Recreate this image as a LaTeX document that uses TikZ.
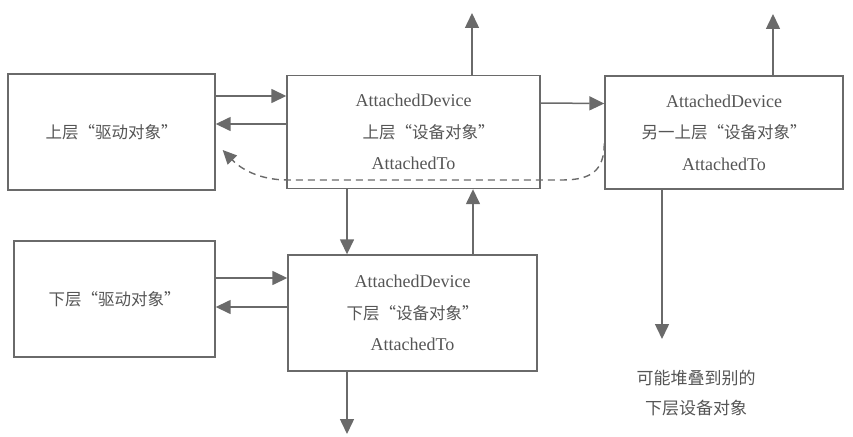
\documentclass[tikz,border=0pt]{standalone}
\usepackage{fontspec}
\setmainfont{Liberation Serif}
\newfontfamily\cjk{Noto Sans CJK SC}
\usetikzlibrary{arrows.meta,calc}
\definecolor{ln}{HTML}{6A6A6A}
\definecolor{tx}{HTML}{555555}
\newcommand{\zh}[1]{{\cjk\fontsize{16.5}{31.5}\selectfont #1}}
\begin{document}
\begin{tikzpicture}[x=1pt,y=-1pt,
  box/.style={draw=ln,line width=1.4pt,align=center,text=tx,inner sep=0pt,
    font=\fontsize{18}{31.5}\selectfont},
  arr/.style={draw=ln,line width=1.5pt,-{Triangle[length=15pt,width=14pt]},ln},
  dsh/.style={draw=ln,line width=1.4pt,dash pattern=on 7pt off 5pt,
    -{Triangle[length=14pt,width=13pt]},ln},
  note/.style={text=tx,inner sep=0pt,font=\cjk\fontsize{17}{20}\selectfont}]
\useasboundingbox (0,0) rectangle (853,436);
% boxes
\node[box,minimum width=207pt,minimum height=116pt] (A) at (111.5,132) {\zh{上层“驱动对象”}};
\node[box,minimum width=253pt,minimum height=113pt] (B) at (413.5,132)
  {AttachedDevice\\\hspace*{30pt}\zh{上层“设备对象”}\\AttachedTo};
\node[box,minimum width=238pt,minimum height=113pt] (C) at (724,132.5)
  {AttachedDevice\\\zh{另一上层“设备对象”}\\AttachedTo};
\node[box,minimum width=201pt,minimum height=116pt] (D) at (114.5,299) {\zh{下层“驱动对象”}};
\node[box,minimum width=249pt,minimum height=116pt] (E) at (412.5,313)
  {AttachedDevice\\\zh{下层“设备对象”}\\AttachedTo};
% notes
\node[note] (n1) at (696,378) {可能堆叠到别的};
\node[note] (n2) at (696,408) {下层设备对象};
% free ends
\coordinate (bup) at (472,13);
\coordinate (cup) at (773,14);
\coordinate (cdn) at (662,339);
\coordinate (edn) at (347,434);
\coordinate (xl) at (347,0);
\coordinate (xr) at (473,0);
% horizontal arrows
\draw[arr] ([yshift=36pt]A.east) -- ([yshift=36pt]B.west);
\draw[arr] ([yshift=8pt]B.west) -- ([yshift=8pt]A.east);
\draw[arr] ([yshift=29pt]B.east) -- ([yshift=29pt]C.west);
\draw[arr] ([yshift=21pt]D.east) -- ([yshift=35pt]E.west);
\draw[arr] ([yshift=6pt]E.west) -- ([yshift=-8pt]D.east);
% vertical arrows
\draw[arr] (B.north -| bup) -- (bup);
\draw[arr] (C.north -| cup) -- (cup);
\draw[arr] (C.south -| cdn) -- (cdn);
\draw[arr] (B.south -| xl) -- (E.north -| xl);
\draw[arr] (E.north -| xr) -- (B.south -| xr);
\draw[arr] (E.south -| edn) -- (edn);
% dashed return
\draw[dsh] ([yshift=-11pt]C.west) .. controls (604,170) and (592,180) .. (562,180)
  -- (288,180) .. controls (258,180) and (240,168) .. ([xshift=7pt,yshift=-18pt]A.east);
\end{tikzpicture}
\end{document}
